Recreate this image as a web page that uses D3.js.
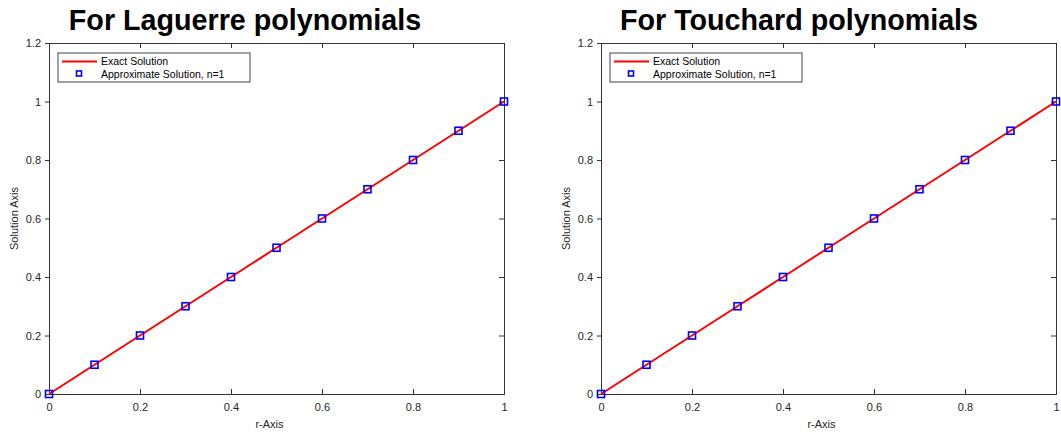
<!DOCTYPE html>
<html lang="en">
<head>
  <meta charset="UTF-8">
  <title>Laguerre / Touchard</title>
  <script src="https://d3js.org/d3.v7.min.js"></script>
  <style>
    body { margin: 0; background: #fff; font-family: "Liberation Sans", Arial, sans-serif; }
    .tick text { fill: #262626; font-size: 11px; }
    .title { font-weight: bold; font-size: 28.7px; fill: #000; }
  </style>
</head>
<body>
  <div id="chart"></div>
  <script>
    const titles = ["For Laguerre polynomials", "For Touchard polynomials"];
    const rValues = [0, 0.1, 0.2, 0.3, 0.4, 0.5, 0.6, 0.7, 0.8, 0.9, 1.0];
    const exactValues = [0, 0.1, 0.2, 0.3, 0.4, 0.5, 0.6, 0.7, 0.8, 0.9, 1.0];
    const approxValues = [0, 0.1, 0.2, 0.3, 0.4, 0.5, 0.6, 0.7, 0.8, 0.9, 1.0];
    const xTicks = [0, 0.2, 0.4, 0.6, 0.8, 1];
    const yTicks = [0, 0.2, 0.4, 0.6, 0.8, 1, 1.2];
    const seriesNames = ["Exact Solution", "Approximate Solution, n=1"];

    const svg = d3.select("#chart").append("svg")
      .attr("width", 1061).attr("height", 433);

    const panels = [
      {left: 49, right: 504, titleX: 245},
      {left: 601, right: 1056, titleX: 799}
    ];
    const plotTop = 43, plotBottom = 394;
    const axisColor = "#333";

    panels.forEach((p, i) => {
      const x = d3.scaleLinear().domain([0, 1]).range([p.left, p.right]);
      const y = d3.scaleLinear().domain([0, 1.2]).range([plotBottom, plotTop]);
      const g = svg.append("g");

      g.append("text").attr("class", "title")
        .attr("x", p.titleX).attr("y", 30)
        .attr("text-anchor", "middle").text(titles[i]);

      // axes: bottom/top/right ticks inside, left ticks outside
      const ax = [
        g.append("g").attr("transform", `translate(0,${plotBottom})`)
          .call(d3.axisBottom(x).tickValues(xTicks).tickSize(-5).tickPadding(9).tickFormat(d3.format("~g"))),
        g.append("g").attr("transform", `translate(0,${plotTop})`)
          .call(d3.axisTop(x).tickValues(xTicks).tickSize(-5).tickFormat("")),
        g.append("g").attr("transform", `translate(${p.left},0)`)
          .call(d3.axisLeft(y).tickValues(yTicks).tickSize(4).tickPadding(4).tickFormat(d3.format("~g"))),
        g.append("g").attr("transform", `translate(${p.right},0)`)
          .call(d3.axisRight(y).tickValues(yTicks).tickSize(-5).tickFormat(""))
      ];
      ax.forEach(a => {
        a.select(".domain").attr("stroke", axisColor);
        a.selectAll(".tick line").attr("stroke", axisColor);
        a.selectAll(".tick text").style("font-family", "Liberation Sans, Arial, sans-serif");
      });

      g.append("text")
        .attr("x", (p.left + p.right) / 2 - 7).attr("y", 428)
        .attr("text-anchor", "middle").attr("font-size", 11).attr("fill", "#262626")
        .text("r-Axis");
      g.append("text")
        .attr("transform", `translate(${p.left - 31},${(plotTop + plotBottom) / 2}) rotate(-90)`)
        .attr("text-anchor", "middle").attr("font-size", 11).attr("fill", "#262626")
        .text("Solution Axis");

      const line = d3.line().x((d, j) => x(rValues[j])).y(d => y(d));
      g.append("path").datum(exactValues)
        .attr("d", line).attr("fill", "none")
        .attr("stroke", "#ff0000").attr("stroke-width", 2);

      g.selectAll(".pt").data(approxValues).enter().append("rect")
        .attr("x", (d, j) => x(rValues[j]) - 3.5)
        .attr("y", d => y(d) - 3.5)
        .attr("width", 7).attr("height", 7)
        .attr("fill", "none").attr("stroke", "#0000ff").attr("stroke-width", 1.6);

      // legend
      const lg = g.append("g").attr("transform", `translate(${p.left + 9},53)`);
      lg.append("rect").attr("width", 192).attr("height", 29)
        .attr("fill", "#fff").attr("stroke", "#444").attr("stroke-width", 1);
      lg.append("line").attr("x1", 4).attr("x2", 39).attr("y1", 8.5).attr("y2", 8.5)
        .attr("stroke", "#ff0000").attr("stroke-width", 2);
      lg.append("rect").attr("x", 18.5).attr("y", 18).attr("width", 5).attr("height", 5)
        .attr("fill", "none").attr("stroke", "#0000ff").attr("stroke-width", 1.6);
      seriesNames.forEach((s, k) => {
        lg.append("text").attr("x", 43).attr("y", 12 + k * 13)
          .attr("font-size", 10.5).attr("fill", "#000").text(s);
      });
    });
  </script>
</body>
</html>
